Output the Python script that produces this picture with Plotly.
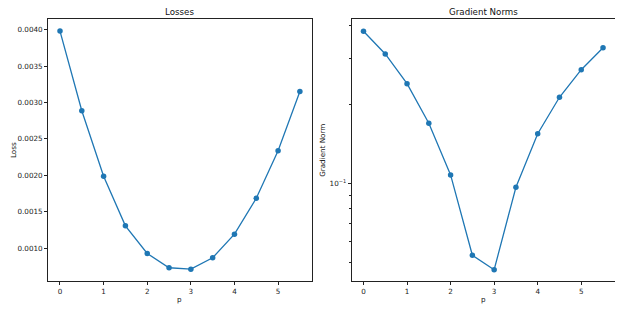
import plotly.graph_objects as go
from plotly.subplots import make_subplots

p = [0, 0.5, 1, 1.5, 2, 2.5, 3, 3.5, 4, 4.5, 5, 5.5]
losses = [0.00398, 0.002886, 0.001986, 0.001307, 0.000927, 0.000731,
          0.000712, 0.000868, 0.001192, 0.001685, 0.002338, 0.003151]
grad_norms = [0.3797, 0.311, 0.2396, 0.1693, 0.1076, 0.05317,
              0.04686, 0.0966, 0.1545, 0.2127, 0.2709, 0.3286]

loss_ticks = [0.0010, 0.0015, 0.0020, 0.0025, 0.0030, 0.0035, 0.0040]
x_ticks = [0, 1, 2, 3, 4, 5]
grad_minor = [0.05, 0.06, 0.07, 0.08, 0.09, 0.2, 0.3, 0.4]

BLUE = "#1f77b4"
FONT = "DejaVu Sans"

fig = make_subplots(rows=1, cols=2, horizontal_spacing=0.07)

fig.add_trace(go.Scatter(x=p, y=losses, mode="lines+markers",
                         line=dict(color=BLUE, width=1.3),
                         marker=dict(color=BLUE, size=5.5)), row=1, col=1)
fig.add_trace(go.Scatter(x=p, y=grad_norms, mode="lines+markers",
                         line=dict(color=BLUE, width=1.3),
                         marker=dict(color=BLUE, size=5.5)), row=1, col=2)

axis_common = dict(showline=True, linecolor="#222", linewidth=0.8, mirror=True,
                   ticks="outside", ticklen=3, tickwidth=0.7, tickcolor="#222",
                   showgrid=False, zeroline=False,
                   tickfont=dict(family=FONT, size=7.2, color="#222"))

fig.update_xaxes(**axis_common, range=[-0.275, 5.775], tickvals=x_ticks,
                 ticktext=[str(v) for v in x_ticks])
fig.update_layout(xaxis=dict(domain=[0, 0.4654]), xaxis2=dict(domain=[0.5353, 1]))
fig.update_yaxes(**axis_common, row=1, col=1, range=[0.000549, 0.004146],
                 tickvals=loss_ticks, ticktext=[f"{v:.4f}" for v in loss_ticks])
fig.update_yaxes(**axis_common, row=1, col=2, type="log", range=[-1.3723, -0.3739],
                 tickvals=[0.1], ticktext=["10<sup>\u22121</sup>"],
                 minor=dict(tickvals=grad_minor, ticks="outside", ticklen=2,
                            tickwidth=0.5, tickcolor="#222"))

# page has an 8px body margin; plot area in page coords: x 48..615.3, y 19..281
W0, W = 48, 567.3
H0, H = 19, 262


def px(xp):
    return (xp - W0) / W


def py(yp):
    return (H0 + H - yp) / H


def ann(text, x, y, size, **kw):
    fig.add_annotation(text=text, x=px(x), y=py(y), xref="paper", yref="paper",
                       xanchor="center", yanchor="middle",
                       showarrow=False, font=dict(family=FONT, size=size, color="#111"), **kw)


ann("Losses", 180, 12, 8.7)
ann("Gradient Norms", 483.5, 12, 8.7)
ann("p", 180, 299, 7.2)
ann("p", 483.5, 299, 7.2)
ann("Loss", 13, 150, 7.2, textangle=-90)
ann("Gradient Norm", 322, 150, 7.2, textangle=-90)

fig.update_layout(width=615, height=304, showlegend=False,
                  margin=dict(l=40, r=7.7, t=11, b=31),
                  paper_bgcolor="white", plot_bgcolor="white",
                  font=dict(family=FONT))
fig.write_html("out.html")
